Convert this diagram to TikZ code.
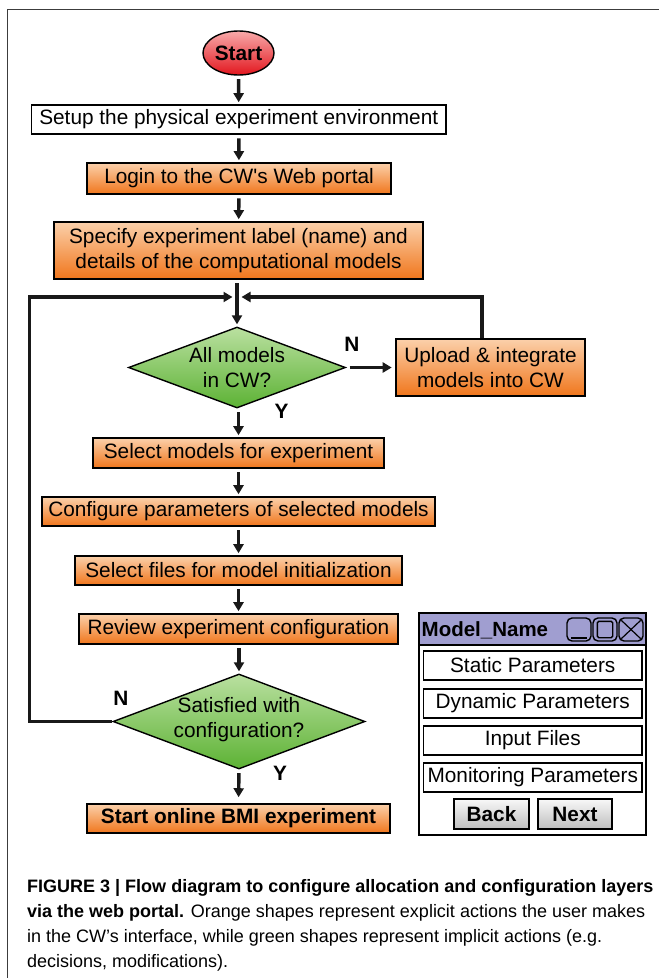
\documentclass[tikz,border=0pt]{standalone}
\usepackage{fontspec}
\setmainfont{Liberation Sans}
% same face without the TeX quote mapping, for a straight apostrophe
\newfontfamily\straightfont{Liberation Sans}
\usetikzlibrary{shapes.geometric,arrows.meta}

\definecolor{orangeTop}{RGB}{251,208,170}
\definecolor{orangeBot}{RGB}{240,118,28}
\definecolor{greenTop}{RGB}{186,224,160}
\definecolor{greenBot}{RGB}{92,178,52}
\definecolor{redTop}{RGB}{248,170,170}
\definecolor{redBot}{RGB}{226,22,30}
\definecolor{titleBar}{RGB}{160,158,208}
\definecolor{btnTop}{RGB}{248,248,248}
\definecolor{btnBot}{RGB}{190,190,190}
\definecolor{frameGray}{RGB}{60,60,60}

\tikzset{
  every node/.style={font=\fontsize{20.8}{25}\selectfont, text=black},
  action/.style={draw=black, line width=1.6pt, rectangle, inner sep=0pt,
    top color=orangeTop, bottom color=orangeBot, align=center},
  plainbox/.style={draw=black, line width=1.6pt, rectangle, inner sep=0pt,
    fill=white, align=center},
  decision/.style={draw=black, line width=1.4pt, diamond, inner sep=0pt,
    top color=greenTop, bottom color=greenBot},
  terminal/.style={draw=black, line width=1.4pt, ellipse, inner sep=0pt,
    top color=redTop, bottom color=redBot, font=\fontsize{20.8}{25}\selectfont\bfseries},
  flow/.style={draw=black!90, line width=3.4pt,
    -{Triangle[length=9pt,width=10pt]}, shorten <=3.5pt, shorten >=2pt},
  loop/.style={draw=black!90, line width=3.8pt, -{Triangle[length=9pt,width=10pt]}},
  answer/.style={font=\fontsize{20.8}{25}\selectfont\bfseries},
  winitem/.style={draw=black, line width=1.6pt, rectangle, inner sep=0pt,
    fill=white, minimum width=218.5pt, minimum height=29pt},
  winbtn/.style={draw=black, line width=1.6pt, rectangle, inner sep=0pt,
    top color=btnTop, bottom color=btnBot, minimum height=30pt,
    font=\fontsize{20.8}{25}\selectfont\bfseries},
  winicon/.style={draw=black, line width=1.4pt, rounded corners=5pt,
    minimum width=24pt, minimum height=23pt, inner sep=0pt},
  caption/.style={font=\fontsize{18}{25}\selectfont, anchor=base west, inner sep=0pt}
}

\begin{document}
\begin{tikzpicture}[x=1pt,y=-1pt]
\useasboundingbox (0,0) rectangle (659,978);

% outer frame (top and left edges)
\draw[frameGray, line width=1.2pt] (7.5,978) -- (7.5,9.5) -- (659,9.5);

% main flow
\node[terminal, minimum width=71pt, minimum height=44pt] (start) at (238.5,53) {Start};
\node[plainbox, minimum width=414.5pt, minimum height=29pt] (setup) at (238.75,119.5)
  {Setup the physical experiment environment};
\node[action, minimum width=304pt, minimum height=31pt] (login) at (239,178.5)
  {Login to the CW{\straightfont '}s Web portal};
\node[action, minimum width=369pt, minimum height=57pt] (spec) at (238.5,250.5)
  {Specify experiment label (name) and\\details of the computational models};

\node[decision, minimum width=217pt, minimum height=81pt] (allin) at (237,367.5) {};
\node[align=center, inner sep=0pt] (allintxt) at (allin.center) {All models\\in CW?};

\node[action, minimum width=189pt, minimum height=57pt] (upload) at (490.5,367.5)
  {Upload \& integrate\\models into CW};

\node[action, minimum width=291pt, minimum height=30pt] (selmod) at (238.5,453)
  {Select models for experiment};
\node[action, minimum width=393pt, minimum height=29pt] (config) at (238.5,511.5)
  {Configure parameters of selected models};
\node[action, minimum width=327pt, minimum height=29pt] (selfile) at (238.5,570.5)
  {Select files for model initialization};
\node[action, minimum width=319pt, minimum height=30pt] (review) at (238.5,629)
  {Review experiment configuration};

\node[decision, minimum width=252pt, minimum height=95pt] (satis) at (239,721.5) {};
\node[align=center, inner sep=0pt] (satistxt) at (239,720) {Satisfied with\\configuration?};

\node[action, minimum width=303pt, minimum height=29pt,
  font=\fontsize{20.8}{25}\selectfont\bfseries] (run) at (238.5,818.5)
  {Start online BMI experiment};

% answer labels
\node[answer] (n1) at (352,344) {N};
\node[answer] (y1) at (281.5,411) {Y};
\node[answer] (n2) at (121,698) {N};
\node[answer] (y2) at (280,773) {Y};

% junction above the first decision
\coordinate (joinL) at (232.5,297);
\coordinate (joinR) at (241.5,297);
\coordinate (loopL) at (29.5,297);
\coordinate (upTop) at ([xshift=-8.5pt]upload.north);

% connectors
\draw[flow] (start) -- (setup);
\draw[flow] (setup) -- (login);
\draw[flow] (login) -- (spec);
\draw[flow] (spec.south -| allin.north) -- (allin.north);
\draw[flow, shorten <=3.5pt, shorten >=3.5pt] (allin.east) -- (upload.west);
\draw[flow] (allin.south -| selmod.north) -- (selmod.north);
\draw[flow] (selmod) -- (config);
\draw[flow] (config) -- (selfile);
\draw[flow] (selfile) -- (review);
\draw[flow] (review.south -| satis.north) -- (satis.north);
\draw[flow, shorten >=6pt] (satis.south) -- (run.north);

% loops back to the junction
\draw[loop, line join=miter] (satis.west) -- (satis.west -| loopL) -- (loopL) -- (joinL);
\draw[loop, line join=miter] (upTop) -- (upTop |- joinR) -- (joinR);

% model parameter window
\node[draw=black, line width=2pt, rectangle, inner sep=0pt, fill=white,
  minimum width=227pt, minimum height=222pt] (win) at (532.5,724) {};
\node[draw=black, line width=1.6pt, rectangle, inner sep=0pt, fill=titleBar,
  minimum width=227pt, minimum height=32pt] (wintitle) at (532.5,629) {};
\node[anchor=west, inner sep=0pt, font=\fontsize{20.5}{25}\selectfont\bfseries]
  (wname) at (421.5,630) {Model\_Name};
\node[winicon] (icmin) at (579,629.5) {};
\node[winicon] (icmax) at (605,629.5) {};
\node[winicon] (icclose) at (631,629.5) {};
% icon glyphs (shifts are in page units: positive y is up)
\draw[black, line width=1.6pt] ([shift={(5pt,4pt)}]icmin.south west) -- ([shift={(-5pt,4pt)}]icmin.south east);
\draw[black, line width=1.4pt, rounded corners=1.5pt] ([shift={(5pt,4pt)}]icmax.south west) rectangle ([shift={(-5pt,-4pt)}]icmax.north east);
\draw[black, line width=1.2pt] ([shift={(3pt,-3pt)}]icclose.north west) -- ([shift={(-3pt,3pt)}]icclose.south east);
\draw[black, line width=1.2pt] ([shift={(-3pt,-3pt)}]icclose.north east) -- ([shift={(3pt,3pt)}]icclose.south west);

\node[winitem] (pstatic) at (532.75,665.5) {Static Parameters};
\node[winitem] (pdyn) at (532.75,703.5) {Dynamic Parameters};
\node[winitem] (pfiles) at (532.75,740.5) {Input Files};
\node[winitem] (pmon) at (532.75,777.5) {Monitoring Parameters};
\node[winbtn, minimum width=75pt] (bback) at (491.5,814) {Back};
\node[winbtn, minimum width=74pt] (bnext) at (575,814) {Next};

% caption
\node[caption] (cap1) at (27,892) {\bfseries FIGURE 3 | Flow diagram to configure allocation and configuration layers};
\node[caption] (cap2) at (27,917) {\textbf{via the web portal.} Orange shapes represent explicit actions the user makes};
\node[caption] (cap3) at (27,942) {in the CW’s interface, while green shapes represent implicit actions (e.g.};
\node[caption] (cap4) at (27,967) {decisions, modifications).};
\end{tikzpicture}
\end{document}
